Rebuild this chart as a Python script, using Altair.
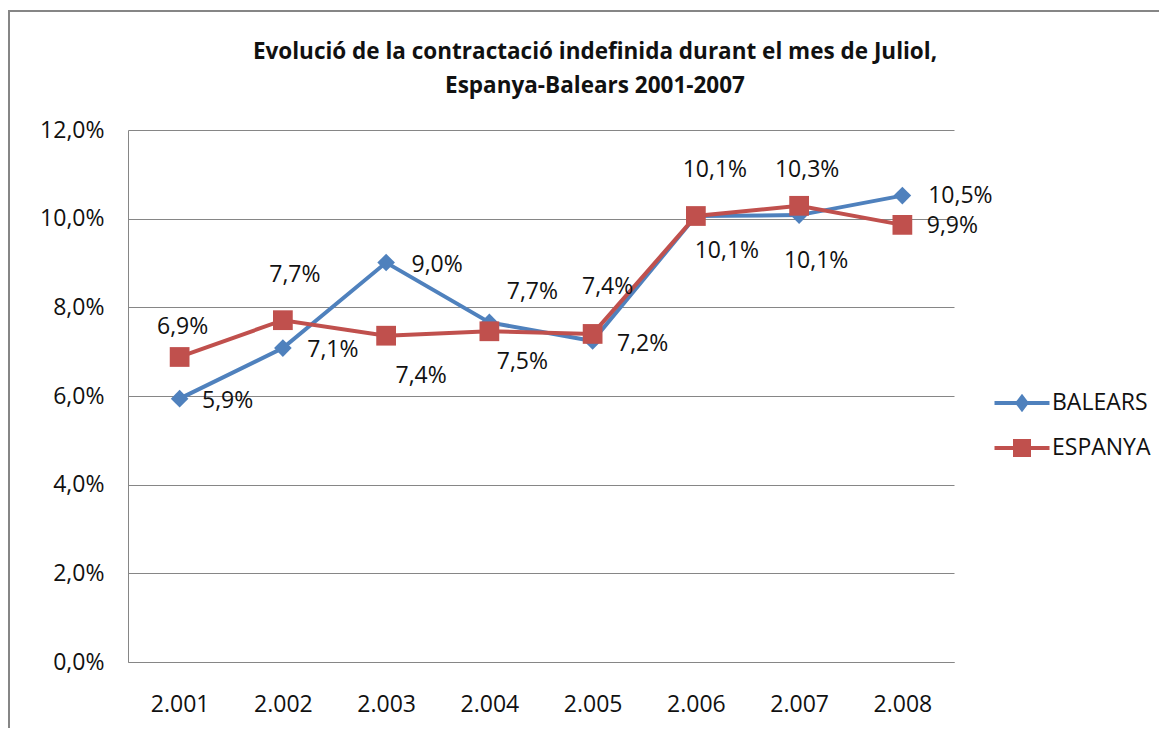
import altair as alt
import pandas as pd

# ---------------- data ----------------
YEARS = ["2.001", "2.002", "2.003", "2.004", "2.005", "2.006", "2.007", "2.008"]
SERIES = ["BALEARS", "ESPANYA"]
BALEARS = [5.94, 7.08, 9.01, 7.66, 7.24, 10.06, 10.08, 10.52]
ESPANYA = [6.88, 7.71, 7.36, 7.46, 7.40, 10.06, 10.29, 9.86]
Y_TICKS = [0, 2, 4, 6, 8, 10, 12]
TITLE = ["Evolució de la contractació indefinida durant el mes de Juliol,",
         "Espanya-Balears 2001-2007"]

# ---------------- style ----------------
COLORS = ["#4F81BD", "#C0504D"]
FONT = "Open Sans"
FS = 23
TEXT_COLOR = "#111111"
AXIS_GREY = "#868686"
SHAPES = {"BALEARS": "diamond", "ESPANYA": "square"}
SIZES = {"BALEARS": 310, "ESPANYA": 390}
# data-label placement (pixel offsets from each marker)
LABEL_DX = {"BALEARS": [48, 50, 51, 43, 50, 31, 17, 58],
            "ESPANYA": [3, 12, 35, 33, 15, 19, 8, 50]}
LABEL_DY = {"BALEARS": [2, 2, 2, -30, 3, 35, 46, 0],
            "ESPANYA": [-30, -45, 40, 31, -47, -46, -36, 1]}

W, H = 826, 532
PAD = {"left": 120, "top": 122, "right": 205, "bottom": 66}

values = {"BALEARS": BALEARS, "ESPANYA": ESPANYA}
rows = []
for s in SERIES:
    for i, y in enumerate(YEARS):
        v = values[s][i]
        rows.append({
            "year": y, "serie": s, "valor": v,
            "label": f"{v:.1f}".replace(".", ",") + "%",
            "ldx": LABEL_DX[s][i], "ldy": LABEL_DY[s][i],
        })
df = pd.DataFrame(rows)

x_enc = alt.X("year:N", sort=YEARS, scale=alt.Scale(domain=YEARS),
              axis=alt.Axis(title=None, labelAngle=0, ticks=False, grid=False,
                            domainColor=AXIS_GREY, labelPadding=31,
                            labelFontSize=FS))
y_enc = alt.Y("valor:Q", scale=alt.Scale(domain=[0, 12], nice=False),
              axis=alt.Axis(title=None, values=Y_TICKS, ticks=False, grid=True,
                            gridColor=AXIS_GREY, domainColor=AXIS_GREY,
                            labelPadding=24, labelFontSize=FS,
                            labelExpr="replace(format(datum.value, '.1f'), '.', ',') + '%'"))

DIAMOND_PATH = "M-2.75,0H2.75M-0.45,0L0,-0.6L0.45,0L0,0.6Z"
SQUARE_PATH = "M-2.75,0H2.75M-0.7,-0.7H0.7V0.7H-0.7Z"
pick_color = f"datum.value === 'BALEARS' ? '{COLORS[0]}' : '{COLORS[1]}'"
legend = alt.Legend(
    orient="none", legendX=882, legendY=261, title=None, padding=0,
    symbolSize=400, labelFont=FONT, labelFontSize=FS, labelColor=TEXT_COLOR,
    labelOffset=18, rowPadding=16,
    symbolType={"expr": f"datum.value === 'BALEARS' ? '{DIAMOND_PATH}' : '{SQUARE_PATH}'"},
    symbolFillColor={"expr": pick_color},
    symbolStrokeColor={"expr": pick_color},
    symbolStrokeWidth=4, symbolOpacity=1,
)
color_enc = alt.Color("serie:N", scale=alt.Scale(domain=SERIES, range=COLORS), legend=legend)

base = alt.Chart(df)

frame = alt.Chart(pd.DataFrame({"k": [0]})).mark_rect(
    fill="transparent", stroke=AXIS_GREY, strokeWidth=2
).encode(x=alt.value(-119), x2=alt.value(1100), y=alt.value(-119), y2=alt.value(700))

layers = [frame]
for s in SERIES:
    d = base.transform_filter(alt.datum.serie == s)
    layers.append(d.mark_line(strokeWidth=4).encode(x=x_enc, y=y_enc, color=color_enc))
    layers.append(d.mark_point(filled=True, opacity=1, size=SIZES[s], shape=SHAPES[s])
                  .encode(x=x_enc, y=y_enc, color=color_enc))

labels = base.mark_text(
    font=FONT, fontSize=FS, color=TEXT_COLOR, align="center", baseline="middle",
    dx={"expr": "datum.ldx"}, dy={"expr": "datum.ldy"}
).encode(x=x_enc, y=y_enc, text="label:N")
layers.append(labels)

chart = alt.layer(*layers).properties(
    width=W, height=H,
    autosize=alt.AutoSizeParams(type="none"),
    padding=PAD,
    title=alt.TitleParams(text=TITLE, font=FONT, fontSize=22.5, fontWeight="bold",
                          color=TEXT_COLOR, anchor="middle", frame="group", dx=54,
                          offset=-87, lineHeight=34),
).configure_view(stroke="transparent").configure_axis(
    labelFont=FONT, labelColor=TEXT_COLOR
)

chart.save("out.html", embed_options={"renderer": "svg", "actions": False})
